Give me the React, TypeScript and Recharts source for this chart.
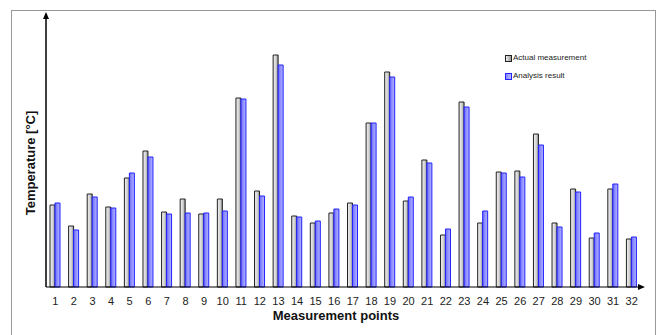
import { BarChart, Bar, XAxis, YAxis } from "recharts";

const points = [
  "1", "2", "3", "4", "5", "6", "7", "8", "9", "10", "11", "12", "13", "14", "15", "16",
  "17", "18", "19", "20", "21", "22", "23", "24", "25", "26", "27", "28", "29", "30", "31", "32",
];

// bar heights (no y scale is printed, so these are relative units)
const actual = [
  82, 61, 93, 80, 109, 136, 75, 88, 73, 88, 189, 96, 232, 71, 64, 74,
  84, 164, 215, 86, 127, 52, 185, 64, 115, 116, 153, 64, 98, 49, 98, 48,
];
const analysis = [
  84, 57, 90, 79, 114, 130, 73, 74, 74, 76, 188, 91, 222, 70, 66, 78,
  82, 164, 210, 90, 124, 58, 180, 76, 114, 110, 142, 60, 95, 54, 103, 50,
];

const seriesNames = ["Actual measurement", "Analysis result"];

const data = points.map((p, i) => ({ name: p, actual: actual[i], analysis: analysis[i] }));

const font = "'Liberation Sans', Arial, sans-serif";

const LegendBox = () => (
  <div
    style={{
      position: "absolute",
      left: 505,
      top: 53,
      fontFamily: font,
      fontSize: 8,
      color: "#222",
      lineHeight: "10px",
    }}
  >
    <div style={{ display: "flex", alignItems: "center", marginBottom: 8 }}>
      <span
        style={{
          display: "inline-block",
          width: 5,
          height: 5,
          border: "1px solid #222",
          background: "linear-gradient(to right, #eee, #999)",
          marginRight: 1,
        }}
      />
      {seriesNames[0]}
    </div>
    <div style={{ display: "flex", alignItems: "center" }}>
      <span
        style={{
          display: "inline-block",
          width: 5,
          height: 5,
          border: "1px solid #2222ff",
          background: "linear-gradient(to right, #8888ff, #b8b8ff)",
          marginRight: 1,
        }}
      />
      {seriesNames[1]}
    </div>
  </div>
);

const App = () => {
  return (
    <div style={{ position: "fixed", left: 0, top: 0, width: 659, height: 335, background: "#fff" }}>
      <BarChart
        data={data}
        width={659}
        height={335}
        margin={{ top: 14, right: 18, bottom: 18, left: 45 }}
        barGap={0}
        barSize={5}
      >
        <defs>
          <linearGradient id="gGray" x1="0" y1="0" x2="1" y2="0">
            <stop offset="0%" stopColor="#f4f4f4" />
            <stop offset="60%" stopColor="#cfcfcf" />
            <stop offset="100%" stopColor="#8a8a8a" />
          </linearGradient>
          <linearGradient id="gBlue" x1="0" y1="0" x2="1" y2="0">
            <stop offset="0%" stopColor="#6a6aff" />
            <stop offset="60%" stopColor="#9a9aff" />
            <stop offset="100%" stopColor="#b4b4ff" />
          </linearGradient>
        </defs>
        <rect x={11.5} y={10.5} width={644} height={340} fill="none" stroke="#999" />
        <XAxis
          dataKey="name"
          height={30}
          tickLine={false}
          tickMargin={4}
          interval={0}
          axisLine={{ stroke: "#000" }}
          tick={{ fontFamily: font, fontSize: 11, fill: "#222" }}
        />
        <YAxis
          width={1}
          domain={[0, 273]}
          tick={false}
          tickLine={false}
          axisLine={{ stroke: "#000" }}
        />
        <Bar dataKey="actual" name={seriesNames[0]} fill="url(#gGray)" stroke="#222" strokeWidth={1} isAnimationActive={false} />
        <Bar dataKey="analysis" name={seriesNames[1]} fill="url(#gBlue)" stroke="#2222ff" strokeWidth={1} isAnimationActive={false} />
        {/* axis arrow heads */}
        <path d="M46,12 L43,19 L49,19 Z" fill="#000" />
        <path d="M645,287 L638,284 L638,290 Z" fill="#000" />
        <line x1={46} y1={19} x2={46} y2={287} stroke="#000" />
        <text x={30} y={163} transform="rotate(-90 30 163)" textAnchor="middle" dominantBaseline="central" fontFamily={font} fontSize={13} fontWeight="bold" fill="#111">
          Temperature [°C]
        </text>
        <text x={336} y={320} textAnchor="middle" fontFamily={font} fontSize={13} fontWeight="bold" fill="#111">
          Measurement points
        </text>
      </BarChart>
      <LegendBox />
    </div>
  );
};

export default App;
